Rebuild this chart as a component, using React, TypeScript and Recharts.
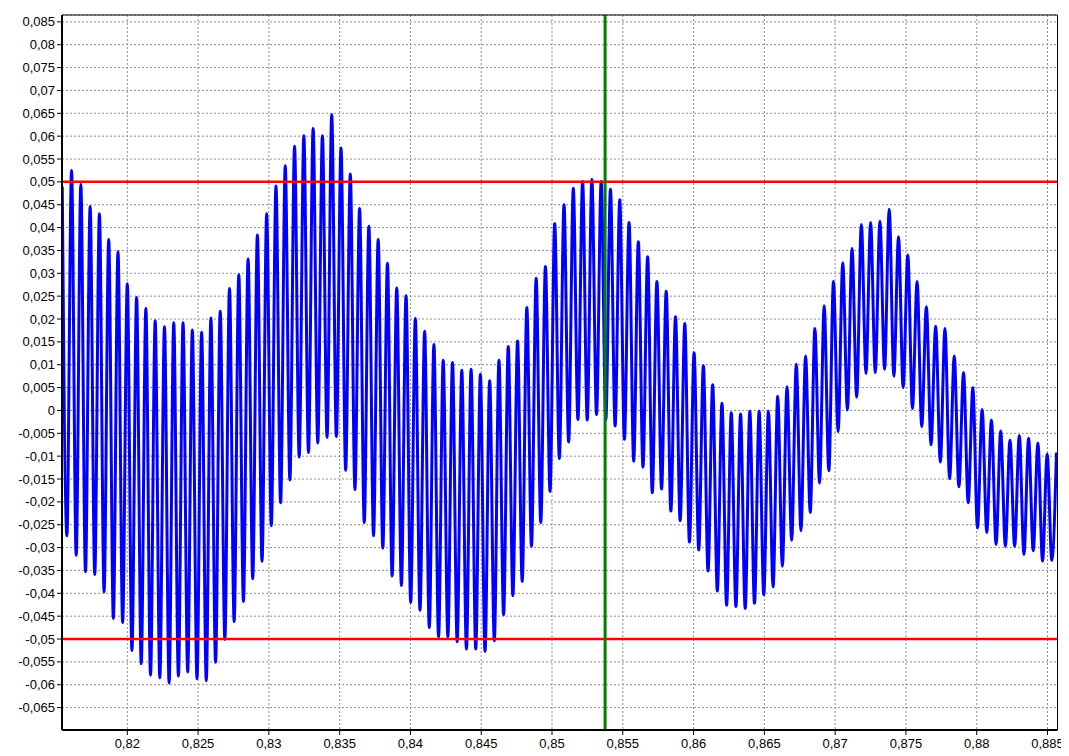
import React from 'react';
import { LineChart, Line, XAxis, YAxis, CartesianGrid, ReferenceLine } from 'recharts';

const SIGNAL_START = 0.815405;
const HALF_PERIOD = 0.00032817;
const signal: number[] = [
  0.049,
  -0.0274, 0.0525, -0.0317, 0.0494, -0.0353, 0.0446, -0.0359, 0.043, -0.0397, 0.0374,
  -0.0455, 0.0347, -0.0464, 0.0277, -0.0525, 0.0247, -0.0554, 0.0223, -0.0579, 0.0196,
  -0.0585, 0.0183, -0.0596, 0.0192, -0.0581, 0.0192,
  -0.0572, 0.0176, -0.0587, 0.0171, -0.0591, 0.0202, -0.0551, 0.0217, -0.0501, 0.0267,
  -0.0462, 0.0297, -0.0418, 0.0331, -0.0368, 0.0384, -0.033, 0.043, -0.0252, 0.0491,
  -0.0202, 0.0535, -0.0152, 0.0578, -0.0102, 0.0601,
  -0.0092, 0.0617, -0.0071, 0.0601, -0.0059, 0.0647, -0.0057, 0.0574, -0.0131, 0.0517,
  -0.0173, 0.0442, -0.0245, 0.0403, -0.0274, 0.0374, -0.0301, 0.0322, -0.0362, 0.0268,
  -0.0383, 0.0251, -0.042, 0.0201, -0.0437, 0.0173, -0.0475, 0.0144,
  -0.0495, 0.011, -0.0495, 0.0105, -0.0506, 0.0088, -0.0522, 0.009, -0.0522, 0.0079,
  -0.0527, 0.0065, -0.0504, 0.011, -0.0447, 0.014, -0.0405, 0.0152, -0.0374, 0.0225,
  -0.0297, 0.0289, -0.0245, 0.0315, -0.0177, 0.0409,
  -0.0105, 0.045, -0.0069, 0.0486, -0.002, 0.0501, -0.0021, 0.0505, -0.0009, 0.0501,
  -0.002, 0.0484, -0.0034, 0.0461, -0.0063, 0.0411, -0.0111, 0.0369, -0.0124, 0.0336,
  -0.018, 0.0282, -0.0172, 0.0261, -0.022, 0.0205, -0.0241, 0.019,
  -0.0288, 0.0126, -0.0305, 0.0098, -0.0351, 0.0056, -0.0395, 0.0016, -0.0426, -0.0005,
  -0.0429, -0.0008, -0.0433, -0.0002, -0.0422, -0.0002, -0.0403, -0.0002, -0.0386, 0.0031,
  -0.0341, 0.0052, -0.0284, 0.0101, -0.0263, 0.0119,
  -0.0223, 0.0179, -0.0159, 0.0229, -0.0132, 0.0282, -0.0046, 0.0323, 0.0001, 0.0354,
  0.0029, 0.0407, 0.0081, 0.0411, 0.0083, 0.0414, 0.009, 0.044, 0.0075, 0.038,
  0.005, 0.034, 0.0004, 0.0282, -0.0035, 0.0227, -0.0075, 0.0184,
  -0.0113, 0.0179, -0.0149, 0.0119, -0.0167, 0.0083, -0.0202, 0.005, -0.0257, 0.0002,
  -0.0267, -0.0021, -0.0293, -0.0045, -0.0297, -0.0065, -0.0297, -0.0055, -0.0315, -0.0061,
  -0.0307, -0.0071, -0.033, -0.0096, -0.0328, -0.0092,
];

const xTicks = [0.82, 0.825, 0.83, 0.835, 0.84, 0.845, 0.85, 0.855, 0.86, 0.865, 0.87, 0.875, 0.88, 0.885];
const yTicks = [
  -0.065, -0.06, -0.055, -0.05, -0.045, -0.04, -0.035, -0.03, -0.025, -0.02, -0.015, -0.01, -0.005,
  0, 0.005, 0.01, 0.015, 0.02, 0.025, 0.03, 0.035, 0.04, 0.045, 0.05, 0.055, 0.06, 0.065, 0.07,
  0.075, 0.08, 0.085,
];
const X_DOMAIN: [number, number] = [0.815387, 0.885706];
const Y_DOMAIN: [number, number] = [-0.0699, 0.0865];
const UPPER_LIMIT = 0.05;
const LOWER_LIMIT = -0.05;
const CURSOR_X = 0.85375;

const X_MINOR_STEP = 0.00125;
const Y_MINOR_STEP = 0.0005;

const xMinor: number[] = [];
for (let k = Math.ceil(X_DOMAIN[0] / X_MINOR_STEP); k * X_MINOR_STEP <= X_DOMAIN[1]; k++) {
  xMinor.push(Number((k * X_MINOR_STEP).toFixed(6)));
}
const yMinor: number[] = [];
for (let k = Math.ceil(Y_DOMAIN[0] / Y_MINOR_STEP); k * Y_MINOR_STEP <= Y_DOMAIN[1]; k++) {
  yMinor.push(Number((k * Y_MINOR_STEP).toFixed(6)));
}

const data = signal.map((v, i) => ({ t: SIGNAL_START + i * HALF_PERIOD, v }));

const fmt = (v: number) => String(Number(v.toFixed(4))).replace('.', ',');

const FONT = 'Liberation Sans, Arial, sans-serif';
const tickStyle = { fill: '#000', fontSize: 13, fontFamily: FONT };

export default function App() {
  return (
    <div style={{ width: 1061, height: 748, background: '#fff' }}>
      <LineChart
        width={1061}
        height={748}
        data={data}
        margin={{ top: 6, right: 10.5, left: 0, bottom: 0 }}
      >
        <CartesianGrid stroke="#8f8f8f" strokeDasharray="2 2" strokeWidth={1} />
        {/* minor ticks (declared first so they sit against the plot) */}
        <XAxis
          xAxisId="minor"
          type="number"
          dataKey="t"
          domain={X_DOMAIN}
          allowDataOverflow
          ticks={xMinor}
          interval={0}
          height={1}
          tick={false}
          axisLine={false}
          tickLine={{ stroke: '#000' }}
          tickSize={3}
        />
        <XAxis
          type="number"
          dataKey="t"
          domain={X_DOMAIN}
          allowDataOverflow
          ticks={xTicks}
          interval={0}
          height={25}
          tickFormatter={fmt}
          tick={tickStyle}
          axisLine={{ stroke: '#000', strokeWidth: 2 }}
          tickLine={{ stroke: '#000' }}
          tickSize={5}
          tickMargin={4}
        />
        <XAxis
          xAxisId="top"
          orientation="top"
          type="number"
          dataKey="t"
          domain={X_DOMAIN}
          allowDataOverflow
          ticks={xTicks}
          interval={0}
          height={1}
          tick={false}
          tickLine={false}
          axisLine={{ stroke: '#000', strokeWidth: 1 }}
        />
        <YAxis
          yAxisId="minor"
          type="number"
          domain={Y_DOMAIN}
          allowDataOverflow
          ticks={yMinor}
          interval={0}
          width={1}
          tick={false}
          axisLine={false}
          tickLine={{ stroke: '#000' }}
          tickSize={3}
        />
        <YAxis
          type="number"
          domain={Y_DOMAIN}
          allowDataOverflow
          ticks={yTicks}
          interval={0}
          width={53}
          tickFormatter={fmt}
          tick={tickStyle}
          axisLine={{ stroke: '#000', strokeWidth: 2 }}
          tickLine={{ stroke: '#000' }}
          tickSize={5}
          tickMargin={2}
        />
        <YAxis
          yAxisId="right"
          orientation="right"
          type="number"
          domain={Y_DOMAIN}
          allowDataOverflow
          ticks={yTicks}
          interval={0}
          width={1}
          tick={false}
          tickLine={false}
          axisLine={{ stroke: '#000', strokeWidth: 1 }}
        />
        <Line
          type="monotone"
          dataKey="v"
          stroke="#0000ff"
          strokeWidth={3}
          dot={false}
          isAnimationActive={false}
        />
        <ReferenceLine y={UPPER_LIMIT} stroke="#ff0000" strokeWidth={2.5} />
        <ReferenceLine y={LOWER_LIMIT} stroke="#ff0000" strokeWidth={2.5} />
        <ReferenceLine x={CURSOR_X} stroke="#008000" strokeWidth={3} />
      </LineChart>
    </div>
  );
}
